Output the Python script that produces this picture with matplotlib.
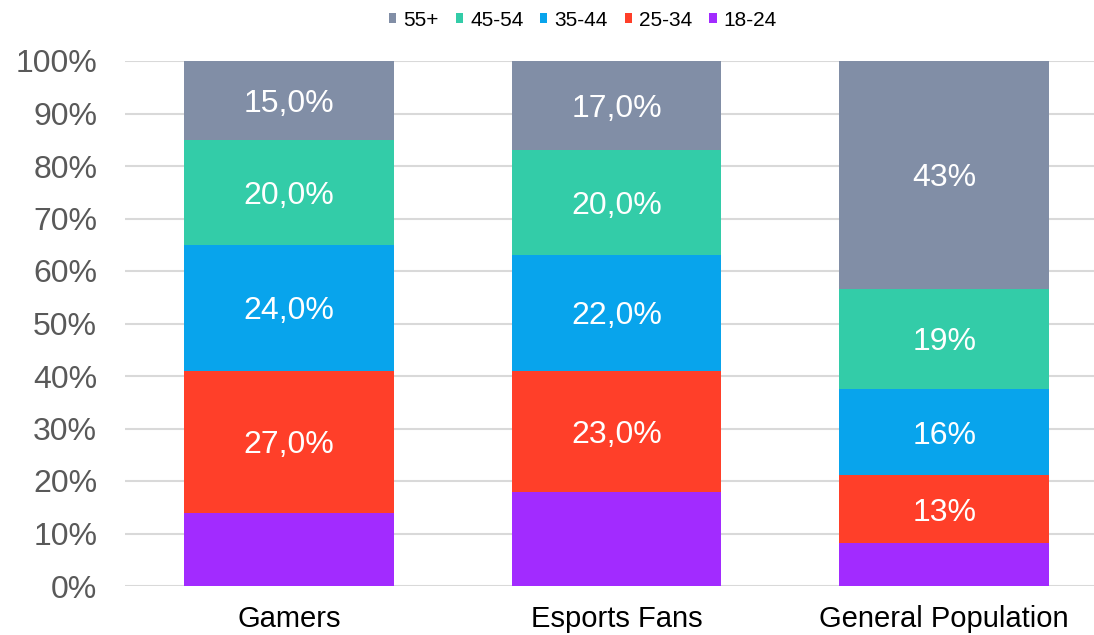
import numpy as np
import matplotlib
matplotlib.use('Agg')
import matplotlib.pyplot as plt

plt.rcParams['font.family'] = ['Liberation Sans', 'DejaVu Sans']

# data
categories = ['Gamers', 'Esports Fans', 'General Population']
age_groups = ['18-24', '25-34', '35-44', '45-54', '55+']
share_18_24 = [14.0, 18.0, 8.2]
share_25_34 = [27.0, 23.0, 12.9]
share_35_44 = [24.0, 22.0, 16.4]
share_45_54 = [20.0, 20.0, 19.1]
share_55_plus = [15.0, 17.0, 43.4]
# labels in the reference use comma decimals for first two bars, integers for the last
label_fmt = ['{:.1f}%', '{:.1f}%', '{:.0f}%']

series = [share_18_24, share_25_34, share_35_44, share_45_54, share_55_plus]
colors = ['#A22BFF', '#FF3F29', '#08A4EC', '#33CCA8', '#818EA6']
show_labels = [False, True, True, True, True]

fig = plt.figure(figsize=(10.94, 6.35), dpi=100)
ax = fig.add_axes([125 / 1094, 1 - 586 / 635, (1108 - 125) / 1094, (586 - 61) / 635])

x = np.arange(len(categories))
bottom = np.zeros(len(categories))
handles = []
for vals, col, name, lab in zip(series, colors, age_groups, show_labels):
    bars = ax.bar(x, vals, width=0.64, bottom=bottom, color=col, label=name, zorder=3)
    handles.append(bars)
    if lab:
        for i, b in enumerate(bars):
            txt = label_fmt[i].format(vals[i]).replace('.', ',')
            ax.text(b.get_x() + b.get_width() / 2, bottom[i] + vals[i] / 2, txt,
                    ha='center', va='center_baseline', color='white', fontsize=23, zorder=4)
    bottom += np.array(vals)

ax.set_xlim(-0.5, 2.5)
ax.set_ylim(0, 100)
ax.set_yticks(np.arange(0, 101, 10))
ax.set_yticklabels([f'{v}%' for v in range(0, 101, 10)])
ax.set_xticks(x)
ax.set_xticklabels(categories)
ax.tick_params(axis='y', length=0, pad=20, labelsize=23, labelcolor='#595959')
ax.tick_params(axis='x', length=0, pad=14, labelsize=21, labelcolor='black')
ax.grid(axis='y', color='#D9D9D9', linewidth=1.5, zorder=0)
for s in ax.spines.values():
    s.set_visible(False)

# legend order as in the reference: oldest group first
leg = fig.legend(handles[::-1], age_groups[::-1], loc='center', bbox_to_anchor=(583 / 1094, 1 - 20 / 635),
                 ncol=5, frameon=False, fontsize=15, handlelength=0.35, handleheight=0.35,
                 handletextpad=0.35, columnspacing=0.8)

fig.savefig('out.png', dpi=100)
